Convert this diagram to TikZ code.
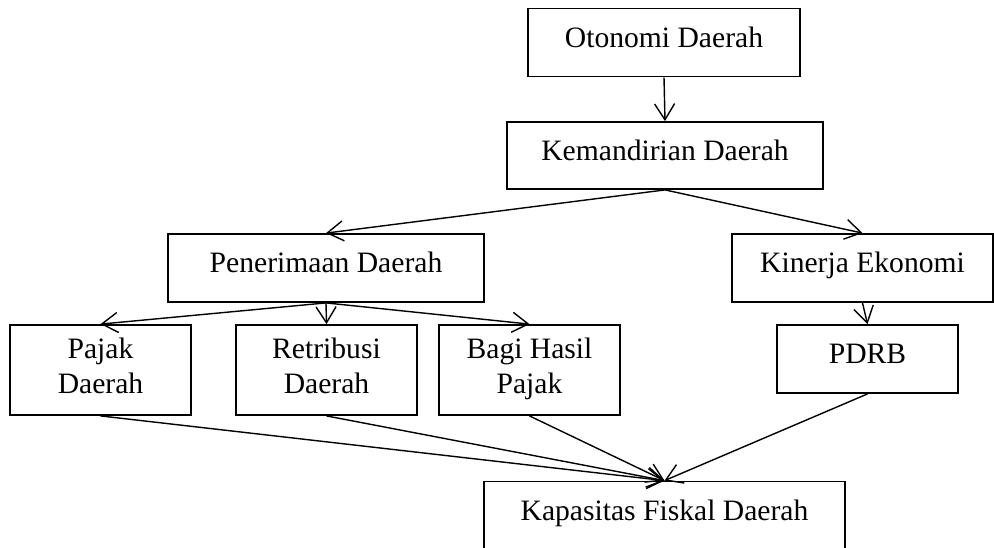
\documentclass[tikz,border=0pt]{standalone}
\usepackage{fontspec}
\setmainfont{Liberation Serif}
\usetikzlibrary{arrows.meta}
\begin{document}
\begin{tikzpicture}[x=0.5pt, y=-0.5pt, >={Straight Barb[length=8pt,width=10pt]},
        font=\fontsize{14.8pt}{17.5pt}\selectfont,
        kotak/.style={draw, line width=0.9pt, inner sep=0pt, text height=10pt, text depth=5.5pt, minimum height=34pt},
        kotakdua/.style={draw, line width=0.9pt, inner sep=0pt, align=center, minimum width=90.5pt, minimum height=45pt,
                execute at begin node=\rule{0pt}{14pt}, execute at end node=\rule[-4.5pt]{0pt}{4.5pt}},
        panah/.style={->, line width=0.7pt}]
                \useasboundingbox (0,0) rectangle (994,547);
                % boxes
                \node[kotak, minimum width=136pt] (otonomi) at (664,42.5) {Otonomi Daerah};
                \node[kotak, minimum width=158pt, minimum height=33.5pt] (kemandirian) at (665,155.5) {Kemandirian Daerah};
                \node[kotak, minimum width=158pt] (penerimaan) at (326,268) {Penerimaan Daerah};
                \node[kotak, minimum width=130.5pt] (kinerja) at (862.5,268) {Kinerja Ekonomi};
                \node[kotakdua] (pajak) at (100.5,370) {Pajak\\Daerah};
                \node[kotakdua] (retribusi) at (326.5,370) {Retribusi\\Daerah};
                \node[kotakdua] (bagi) at (529.5,370) {Bagi Hasil\\Pajak};
                \node[kotak, minimum width=90.5pt] (pdrb) at (867.5,359) {PDRB};
                \node[kotak, minimum width=180.5pt] (kapasitas) at (664.5,515.5) {Kapasitas Fiskal Daerah};
                % arrows
                \draw[panah] (otonomi.south)--(kemandirian.north);
                \draw[panah] (kemandirian.south)--(penerimaan.north);
                \draw[panah] (kemandirian.south)--(kinerja.north);
                \draw[panah] (penerimaan.south)--(pajak.north);
                \draw[panah] (penerimaan.south)--(retribusi.north);
                \draw[panah] (penerimaan.south)--(bagi.north);
                \draw[panah] (kinerja.south)--(pdrb.north);
                \draw[panah] (pajak.south)--(kapasitas.north);
                \draw[panah] (retribusi.south)--(kapasitas.north);
                \draw[panah] (bagi.south)--(kapasitas.north);
                \draw[panah] (pdrb.south)--(kapasitas.north);
\end{tikzpicture}
\end{document}
